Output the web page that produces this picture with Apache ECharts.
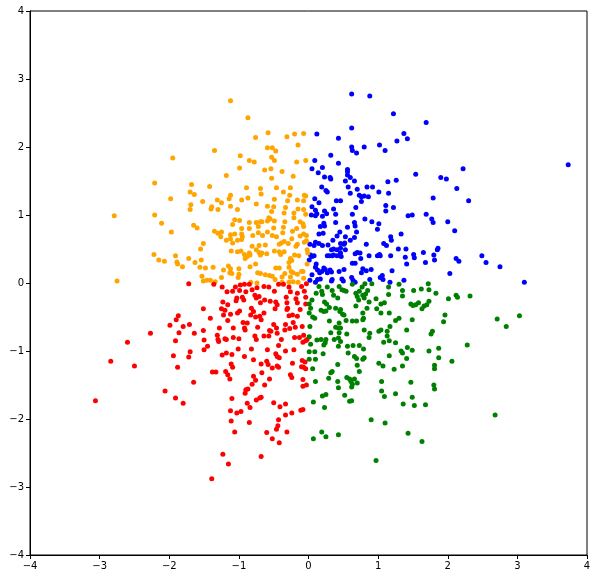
<!DOCTYPE html>
<html>
<head>
<meta charset="utf-8">
<script src="https://cdn.jsdelivr.net/npm/echarts@6/dist/echarts.min.js"></script>
<style>
  html, body { margin: 0; padding: 0; background: #fff; }
  #chart { width: 597px; height: 579px; }
</style>
</head>
<body>
<div id="chart"></div>
<script>
// points, one array per quadrant colour
const orangePts = [
  [-1.12,2.68],[-0.87,2.43],[-0.58,2.21],[-0.31,2.15],[-0.20,2.19],[-0.07,2.20],[-0.76,2.14],[-0.15,2.03],
  [-0.59,1.99],[-0.52,1.99],[-0.47,1.94],[-1.35,1.95],[-1.95,1.84],[-0.98,1.87],[-0.85,1.80],[-0.78,1.78],
  [-0.53,1.85],[-0.49,1.80],[-0.17,1.78],[-0.04,1.80],[-0.99,1.69],[-0.63,1.66],[-0.54,1.68],[-0.38,1.64],
  [-0.22,1.57],[-1.18,1.58],[-0.53,1.54],[-2.21,1.47],[-1.68,1.45],[-1.42,1.42],[-0.89,1.40],[-0.69,1.39],
  [-0.46,1.40],[-0.26,1.40],[-1.70,1.34],[-1.64,1.30],[-1.12,1.29],[-0.68,1.31],[-0.36,1.34],[-0.27,1.29],
  [-0.06,1.29],[-0.04,1.28],[-1.98,1.24],[-1.52,1.20],[-1.31,1.22],[-1.25,1.18],[-1.14,1.24],[-0.96,1.22],
  [-0.87,1.25],[-0.75,1.16],[-0.49,1.23],[-0.30,1.21],[-0.16,1.22],[-0.07,1.21],[-1.69,1.15],[-1.39,1.12],
  [-1.12,1.13],[-0.59,1.13],[-0.50,1.12],[-0.33,1.11],[-0.15,1.09],[-1.70,1.08],[-1.40,1.09],[-1.30,1.08],
  [-1.02,1.08],[-0.53,1.05],[-0.35,1.03],[-0.21,1.03],[-0.07,1.08],[-0.04,1.01],[-2.21,1.00],[-0.57,0.96],
  [-0.21,0.96],[-2.11,0.88],[-1.09,0.86],[-1.06,0.93],[-0.99,0.92],[-0.85,0.89],[-0.75,0.89],[-0.69,0.90],
  [-0.72,0.83],[-0.67,0.90],[-0.59,0.91],[-0.55,0.94],[-0.49,0.91],[-0.34,0.90],[-0.12,0.90],[-0.08,0.87],
  [-1.65,0.85],[-1.60,0.81],[-0.96,0.80],[-0.85,0.80],[-0.50,0.81],[-0.36,0.82],[-0.07,0.83],[-0.17,0.80],
  [-1.97,0.75],[-1.35,0.76],[-1.30,0.73],[-1.25,0.75],[-1.26,0.68],[-1.12,0.71],[-1.06,0.72],[-0.96,0.72],
  [-0.95,0.68],[-0.96,0.64],[-0.80,0.70],[-0.72,0.74],[-0.66,0.70],[-0.59,0.75],[-0.52,0.70],[-0.46,0.68],
  [-0.37,0.74],[-0.23,0.76],[-0.24,0.65],[-0.12,0.69],[-0.07,0.72],[-0.03,0.70],[-1.18,0.63],[-1.12,0.65],
  [-1.09,0.59],[-1.02,0.63],[-1.51,0.58],[-0.81,0.54],[-0.71,0.55],[-0.62,0.56],[-0.42,0.57],[-0.39,0.59],
  [-0.35,0.61],[-0.29,0.58],[-0.18,0.54],[-0.16,0.57],[-0.06,0.60],[-0.03,0.62],[-1.55,0.50],[-1.11,0.47],
  [-1.02,0.46],[-0.97,0.47],[-0.88,0.39],[-0.92,0.42],[-0.85,0.44],[-0.84,0.41],[-0.75,0.49],[-0.71,0.45],
  [-0.67,0.44],[-0.69,0.41],[-0.60,0.43],[-0.49,0.47],[-0.42,0.46],[-0.40,0.42],[-0.35,0.46],[-0.26,0.36],
  [-0.28,0.30],[-0.24,0.33],[-0.20,0.41],[-0.14,0.40],[-0.02,0.49],[-0.01,0.44],[-0.02,0.28],[-2.22,0.42],
  [-2.15,0.34],[-2.07,0.32],[-1.91,0.40],[-1.89,0.31],[-1.88,0.28],[-1.81,0.24],[-1.72,0.36],[-1.63,0.30],
  [-1.54,0.34],[-1.56,0.23],[-1.48,0.22],[-1.37,0.23],[-1.22,0.19],[-1.15,0.25],[-1.12,0.21],[-1.13,0.15],
  [-1.10,0.14],[-1.00,0.21],[-1.00,0.13],[-0.91,0.36],[-0.84,0.24],[-0.76,0.28],[-0.73,0.15],[-0.69,0.14],
  [-0.62,0.12],[-0.56,0.11],[-0.52,0.10],[-0.47,0.22],[-0.42,0.22],[-0.48,0.05],[-0.38,0.09],[-0.34,0.14],
  [-0.28,0.23],[-0.25,0.17],[-0.22,0.15],[-0.16,0.13],[-0.10,0.17],[-0.26,0.09],[-0.22,0.02],[-1.53,0.10],
  [-1.51,0.03],[-1.46,0.04],[-1.41,0.04],[-1.34,0.02],[-1.25,0.08],[-1.01,0.08],[-0.83,0.01],[-0.74,0.00],
  [-0.38,0.01],[-0.28,0.01],[-0.15,0.01],[-0.07,0.07],[-0.08,0.17],[-2.79,0.99],[-2.75,0.03]
];

const bluePts = [
  [0.62,2.78],[0.88,2.75],[1.22,2.49],[1.69,2.36],[0.62,2.28],[0.12,2.19],[1.37,2.20],[1.42,2.12],
  [1.27,2.09],[0.43,2.13],[1.02,2.03],[1.10,1.95],[0.80,2.00],[0.62,2.00],[0.63,1.95],[0.69,1.91],
  [0.32,1.88],[0.09,1.80],[0.43,1.76],[0.05,1.68],[0.20,1.70],[0.56,1.67],[0.56,1.64],[0.56,1.59],
  [0.14,1.62],[1.54,1.60],[0.23,1.56],[0.31,1.55],[0.32,1.53],[0.60,1.55],[0.66,1.50],[0.53,1.50],
  [1.14,1.49],[1.26,1.51],[1.90,1.55],[1.98,1.53],[0.19,1.41],[0.25,1.36],[0.27,1.34],[0.57,1.41],
  [0.70,1.38],[0.60,1.32],[0.84,1.41],[0.92,1.41],[1.01,1.34],[1.15,1.32],[0.73,1.29],[0.76,1.27],
  [0.80,1.28],[0.86,1.27],[0.76,1.20],[0.09,1.24],[0.15,1.18],[0.40,1.21],[0.46,1.21],[0.68,1.11],
  [1.11,1.14],[1.11,1.06],[1.22,1.11],[1.79,1.25],[0.05,1.12],[0.10,1.07],[0.12,1.02],[0.10,0.99],
  [0.23,1.06],[0.26,1.02],[0.36,1.09],[0.39,1.01],[0.63,1.01],[0.04,1.00],[0.20,0.98],[1.43,0.99],
  [1.49,1.00],[1.69,1.01],[1.77,0.94],[1.79,0.89],[2.00,0.90],[0.81,0.94],[0.91,0.90],[1.01,0.87],
  [0.66,0.89],[0.67,0.84],[0.56,0.82],[0.22,0.88],[0.17,0.83],[0.23,0.84],[0.15,0.72],[0.21,0.73],
  [0.39,0.89],[0.99,0.79],[0.69,0.75],[0.45,0.75],[0.41,0.69],[0.53,0.68],[0.66,0.67],[0.60,0.63],
  [0.52,0.59],[1.18,0.68],[1.19,0.63],[1.33,0.72],[0.35,0.63],[0.28,0.56],[0.20,0.55],[0.15,0.58],
  [0.10,0.60],[0.02,0.57],[0.08,0.55],[0.46,0.58],[0.51,0.57],[0.46,0.51],[0.41,0.49],[0.36,0.50],
  [0.33,0.49],[0.27,0.40],[0.30,0.40],[0.34,0.40],[0.36,0.41],[0.53,0.49],[0.46,0.44],[0.47,0.39],
  [0.41,0.40],[0.74,0.44],[0.70,0.45],[0.67,0.43],[0.75,0.36],[0.83,0.57],[0.87,0.40],[0.63,0.29],
  [0.67,0.29],[1.02,0.42],[1.03,0.40],[1.08,0.58],[1.12,0.55],[1.18,0.40],[1.29,0.50],[1.40,0.50],
  [1.51,0.42],[1.52,0.37],[1.39,0.38],[1.41,0.28],[1.65,0.45],[1.80,0.41],[1.85,0.49],[1.86,0.51],
  [1.81,0.34],[1.68,0.30],[2.03,0.14],[0.03,0.41],[0.05,0.39],[0.08,0.40],[0.01,0.34],[0.11,0.28],
  [0.10,0.23],[0.13,0.19],[0.16,0.15],[0.19,0.17],[0.22,0.22],[0.24,0.20],[0.27,0.15],[0.31,0.19],
  [0.33,0.16],[0.05,0.12],[0.02,0.04],[0.10,0.01],[0.13,0.05],[0.17,0.06],[0.33,0.03],[0.34,0.05],
  [0.44,0.17],[0.51,0.20],[0.48,0.06],[0.50,0.03],[0.62,0.08],[0.64,0.04],[0.67,0.01],[0.78,0.21],
  [0.76,0.15],[0.83,0.18],[0.90,0.20],[0.88,0.05],[1.06,0.11],[1.03,0.08],[1.07,0.05],[0.99,0.40],
  [1.17,0.01],[1.20,0.18],[1.37,0.04],[2.22,1.68],[2.13,1.39],[2.30,1.21],[3.73,1.74],[2.10,0.77],
  [2.49,0.40],[2.12,0.36],[2.16,0.32],[2.55,0.30],[2.75,0.24],[3.10,0.01]
];

const redPts = [
  [-1.72,-0.01],[-1.36,-0.02],[-1.24,-0.06],[-1.17,-0.13],[-1.09,-0.12],[-1.05,-0.06],[-0.98,-0.03],[-0.99,-0.11],
  [-0.92,-0.02],[-0.90,-0.13],[-0.85,-0.02],[-0.81,-0.10],[-0.74,-0.07],[-0.77,-0.18],[-0.71,-0.20],[-0.64,-0.05],
  [-0.57,-0.06],[-0.49,-0.12],[-0.43,-0.02],[-0.36,-0.02],[-0.28,-0.06],[-0.26,-0.13],[-0.16,-0.15],[-0.10,-0.05],
  [-0.06,-0.12],[-0.03,-0.01],[-1.23,-0.28],[-1.16,-0.32],[-1.03,-0.22],[-1.04,-0.26],[-0.95,-0.21],[-0.93,-0.25],
  [-0.82,-0.37],[-0.79,-0.42],[-0.75,-0.22],[-0.69,-0.29],[-0.63,-0.25],[-0.55,-0.27],[-0.47,-0.28],[-0.45,-0.32],
  [-0.31,-0.29],[-0.32,-0.21],[-0.30,-0.37],[-0.31,-0.39],[-0.18,-0.23],[-0.16,-0.29],[-0.12,-0.39],[-0.04,-0.21],
  [-0.04,-0.31],[-1.51,-0.38],[-1.25,-0.38],[-1.20,-0.40],[-1.12,-0.46],[-1.22,-0.47],[-1.02,-0.44],[-0.99,-0.41],
  [-0.83,-0.47],[-0.76,-0.50],[-0.70,-0.49],[-0.64,-0.44],[-0.48,-0.38],[-0.28,-0.48],[-0.23,-0.47],[-0.16,-0.49],
  [-1.87,-0.48],[-1.90,-0.54],[-1.41,-0.52],[-1.16,-0.55],[-1.99,-0.62],[-1.71,-0.61],[-1.80,-0.64],[-2.27,-0.74],
  [-1.86,-0.73],[-1.91,-0.85],[-1.64,-0.74],[-1.51,-0.70],[-1.50,-0.84],[-1.50,-0.98],[-1.45,-0.93],[-1.28,-0.66],
  [-1.31,-0.77],[-1.30,-0.83],[-1.29,-0.86],[-1.20,-0.82],[-1.18,-0.83],[-1.08,-0.66],[-1.08,-0.80],[-1.00,-0.82],
  [-0.94,-0.58],[-0.92,-0.66],[-0.88,-0.59],[-0.91,-0.69],[-0.73,-0.65],[-0.68,-0.54],[-0.77,-0.78],[-0.75,-0.83],
  [-0.64,-0.78],[-0.56,-0.70],[-0.54,-0.71],[-0.57,-0.78],[-0.50,-0.61],[-0.46,-0.66],[-0.45,-0.74],[-0.39,-0.83],
  [-0.43,-0.92],[-0.33,-0.61],[-0.34,-0.69],[-0.27,-0.67],[-0.22,-0.58],[-0.19,-0.65],[-0.20,-0.80],[-0.13,-0.80],
  [-0.09,-0.64],[-0.07,-0.77],[-0.04,-0.85],[-0.02,-0.83],[-0.08,-0.87],[-1.01,-0.97],[-1.18,-1.03],[-1.24,-1.06],
  [-1.10,-1.05],[-0.92,-1.08],[-0.82,-0.97],[-0.59,-0.98],[-0.47,-1.04],[-0.45,-1.08],[-0.42,-1.10],[-0.33,-1.00],
  [-0.21,-0.98],[-1.94,-1.07],[-1.72,-1.09],[-1.70,-1.01],[-0.79,-1.13],[-0.60,-1.15],[-0.58,-1.20],[-0.68,-1.19],
  [-0.52,-1.25],[-0.45,-1.22],[-0.43,-1.24],[-0.23,-1.18],[-0.09,-1.14],[-0.05,-1.16],[-0.04,-1.26],[-0.10,-1.23],
  [-0.07,-1.24],[-1.11,-1.19],[-1.09,-1.24],[-1.88,-1.24],[-1.38,-1.31],[-1.33,-1.31],[-1.19,-1.30],[-1.16,-1.35],
  [-1.13,-1.41],[-0.67,-1.32],[-0.79,-1.37],[-0.76,-1.43],[-0.81,-1.49],[-0.56,-1.41],[-0.26,-1.35],[-0.24,-1.39],
  [-0.08,-1.42],[-0.03,-1.50],[-0.08,-1.52],[-1.65,-1.46],[-0.63,-1.50],[-0.87,-1.56],[-0.90,-1.57],[-0.91,-1.62],
  [-2.06,-1.59],[-1.91,-1.69],[-1.80,-1.77],[-1.10,-1.70],[-0.75,-1.72],[-0.70,-1.69],[-0.68,-1.68],[-0.88,-1.77],
  [-0.84,-1.83],[-0.50,-1.76],[-0.41,-1.82],[-0.33,-1.78],[-1.12,-1.88],[-1.03,-1.91],[-0.97,-1.89],[-0.33,-1.94],
  [-0.24,-1.91],[-0.11,-1.87],[-0.08,-1.86],[-0.43,-2.01],[-1.11,-2.03],[-0.85,-2.05],[-0.44,-2.10],[-0.46,-2.15],
  [-1.06,-2.19],[-0.60,-2.20],[-0.31,-2.19],[-0.52,-2.29],[-0.42,-2.35],[-1.23,-2.52],[-0.68,-2.55],[-1.15,-2.66],
  [-1.39,-2.88],[-2.60,-0.87],[-2.84,-1.15],[-2.50,-1.22],[-3.06,-1.73]
];

const greenPts = [
  [0.15,-0.05],[0.11,-0.15],[0.01,-0.31],[0.03,-0.37],[0.05,-0.25],[0.01,-0.44],[0.06,-0.50],[0.09,-0.52],
  [0.20,-0.17],[0.19,-0.12],[0.27,-0.06],[0.34,-0.11],[0.36,-0.18],[0.42,-0.22],[0.23,-0.28],[0.26,-0.31],
  [0.30,-0.36],[0.18,-0.40],[0.22,-0.42],[0.25,-0.41],[0.39,-0.37],[0.46,-0.39],[0.49,-0.46],[0.51,-0.47],
  [0.45,-0.42],[0.48,-0.10],[0.51,-0.11],[0.54,-0.12],[0.44,-0.05],[0.63,-0.02],[0.68,-0.15],[0.73,-0.12],
  [0.77,-0.06],[0.81,-0.01],[0.85,-0.11],[0.91,-0.01],[0.70,-0.20],[0.78,-0.18],[0.82,-0.16],[0.72,-0.25],
  [0.80,-0.22],[0.97,-0.23],[0.87,-0.28],[0.98,-0.38],[0.68,-0.34],[0.78,-0.44],[0.84,-0.37],[0.79,-0.52],
  [1.04,-0.31],[1.09,-0.29],[1.15,-0.17],[1.15,-0.06],[1.04,-0.44],[1.16,-0.44],[1.30,-0.02],[1.35,-0.11],
  [1.35,-0.19],[1.51,-0.11],[1.62,-0.09],[1.73,-0.10],[1.72,-0.01],[1.83,-0.15],[2.01,-0.23],[1.47,-0.31],
  [1.50,-0.33],[1.54,-0.32],[1.58,-0.29],[1.63,-0.38],[1.66,-0.34],[1.70,-0.32],[1.73,-0.27],[1.96,-0.47],
  [1.94,-0.57],[1.30,-0.52],[1.25,-0.55],[1.49,-0.54],[1.04,-0.69],[1.01,-0.71],[1.13,-0.71],[1.17,-0.64],
  [1.13,-0.78],[1.16,-0.85],[1.25,-0.88],[1.08,-0.87],[1.41,-0.69],[1.78,-0.71],[1.76,-0.75],[0.30,-0.56],
  [0.44,-0.59],[0.43,-0.66],[0.39,-0.65],[0.46,-0.66],[0.54,-0.55],[0.63,-0.56],[0.69,-0.56],[0.78,-0.54],
  [0.80,-0.69],[0.88,-0.74],[0.87,-0.80],[0.02,-0.64],[0.32,-0.73],[0.55,-0.75],[0.44,-0.73],[0.43,-0.81],
  [0.46,-0.86],[0.37,-0.83],[0.25,-0.83],[0.18,-0.83],[0.12,-0.84],[0.24,-0.88],[0.22,-0.91],[0.03,-0.90],
  [0.01,-0.79],[0.43,-0.93],[0.56,-0.93],[0.64,-0.92],[0.73,-0.92],[0.79,-0.97],[0.66,-1.08],[0.69,-1.11],
  [0.80,-1.10],[0.78,-1.12],[0.57,-1.03],[0.21,-1.04],[0.01,-1.01],[0.09,-1.01],[0.01,-1.12],[0.10,-1.12],
  [0.42,-1.20],[0.34,-1.30],[0.32,-1.32],[0.70,-1.21],[0.73,-1.30],[1.01,-1.18],[1.07,-1.22],[1.16,-1.07],
  [1.23,-1.27],[1.33,-1.00],[1.35,-1.03],[1.41,-1.11],[1.35,-1.22],[1.42,-0.95],[1.49,-0.99],[1.73,-1.00],
  [1.87,-0.96],[1.87,-1.10],[1.81,-1.21],[1.81,-1.26],[2.06,-1.15],[0.06,-1.26],[0.29,-1.40],[0.42,-1.45],
  [0.43,-1.54],[0.10,-1.45],[0.55,-1.39],[0.59,-1.41],[0.61,-1.45],[0.66,-1.41],[0.62,-1.53],[0.63,-1.49],
  [0.70,-1.47],[1.05,-1.45],[1.47,-1.46],[1.80,-1.50],[1.81,-1.56],[0.20,-1.66],[0.25,-1.64],[0.52,-1.65],
  [0.59,-1.74],[0.62,-1.73],[1.05,-1.59],[1.09,-1.67],[1.25,-1.63],[1.49,-1.68],[1.36,-1.78],[1.52,-1.80],
  [1.68,-1.79],[0.07,-1.75],[0.23,-1.83],[0.90,-2.01],[1.10,-2.06],[0.19,-2.19],[0.25,-2.26],[0.43,-2.23],
  [0.07,-2.29],[1.43,-2.21],[1.63,-2.33],[0.97,-2.61],[2.12,-0.18],[2.14,-0.21],[2.32,-0.19],[2.71,-0.53],
  [3.03,-0.48],[2.84,-0.64],[2.28,-0.91],[2.68,-1.94]
];

const axisTicks = [-4, -3, -2, -1, 0, 1, 2, 3, 4];

const myChart = echarts.init(document.getElementById("chart"));

const axisBase = {
  type: "value",
  min: axisTicks[0],
  max: axisTicks[axisTicks.length - 1],
  interval: 1,
  axisLine: { show: true, onZero: false, lineStyle: { color: "#000", width: 1 } },
  axisTick: { show: true, inside: false, length: 4, lineStyle: { color: "#000" } },
  axisLabel: {
    color: "#000",
    fontSize: 10,
    fontFamily: "DejaVu Sans",
    formatter: (v) => String(v).replace("-", "\u2212"),
  },
  splitLine: { show: false },
};

function scatter(name, data, color) {
  return {
    name: name,
    type: "scatter",
    data: data,
    symbolSize: 5,
    itemStyle: { color: color, opacity: 1 },
    silent: true,
  };
}

const option = {
  animation: false,
  backgroundColor: "#fff",
  grid: {
    left: 30,
    right: 10,
    top: 11,
    bottom: 24,
    show: true,
    borderColor: "#000",
    borderWidth: 1,
  },
  xAxis: Object.assign({}, axisBase, { axisLabel: Object.assign({}, axisBase.axisLabel, { margin: 6 }) }),
  yAxis: Object.assign({}, axisBase, { axisLabel: Object.assign({}, axisBase.axisLabel, { margin: 6 }) }),
  series: [
    scatter("blue", bluePts, "#0000ff"),
    scatter("orange", orangePts, "#ffa500"),
    scatter("red", redPts, "#ff0000"),
    scatter("green", greenPts, "#008000"),
  ],
};

myChart.setOption(option);
</script>
</body>
</html>
